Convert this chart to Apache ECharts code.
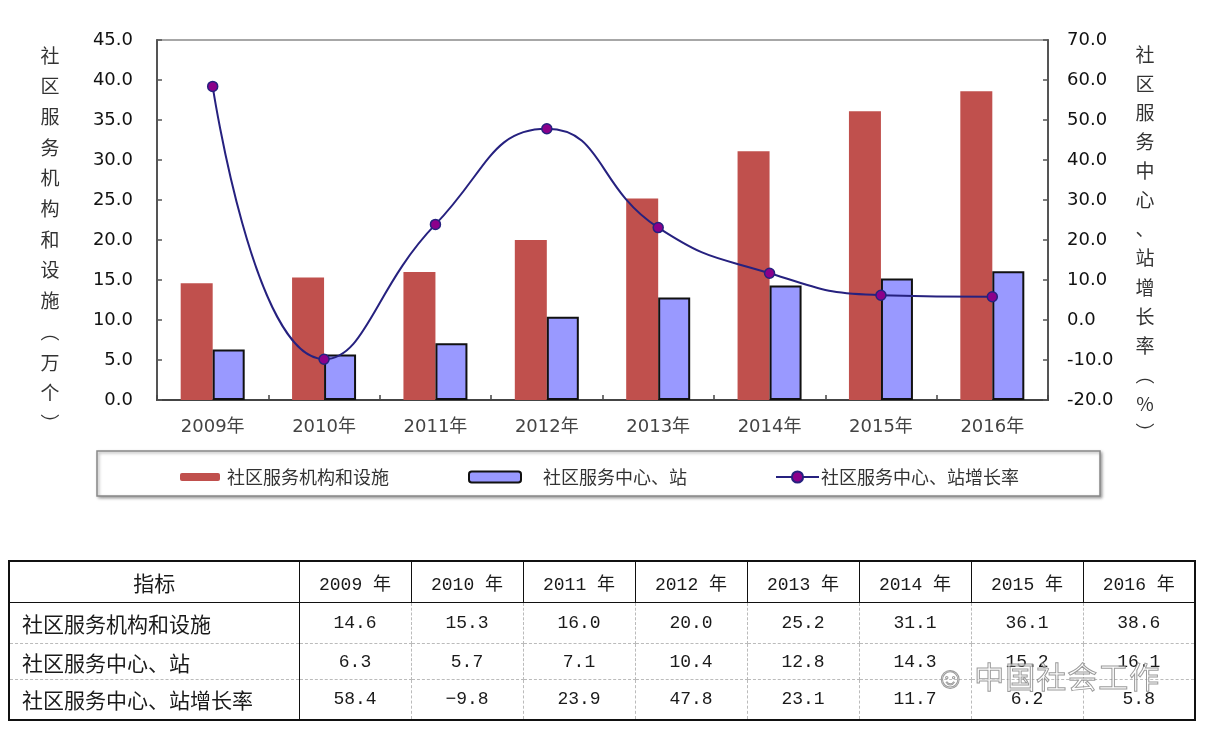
<!DOCTYPE html>
<html>
<head>
<meta charset="utf-8">
<script src="https://cdn.jsdelivr.net/npm/echarts@6/dist/echarts.min.js"></script>
<style>
html,body{margin:0;padding:0;background:#fff;}
#wrap{position:relative;width:1208px;height:729px;overflow:hidden;}
#chart{position:absolute;left:0;top:0;width:1208px;height:729px;}
#tbl{position:absolute;left:8px;top:560px;border-collapse:collapse;table-layout:fixed;
  font-family:'Liberation Mono','Noto Sans CJK SC',monospace;color:#1a1a1a;}
#tbl td,#tbl th{padding:0;text-align:center;font-weight:normal;font-size:18px;}
#tbl th{border:1.5px solid #111;height:40px;}
#tbl th.name{font-family:'Noto Sans CJK SC',sans-serif;font-size:21px;}
#tbl td{border-left:1px dashed #bbb;border-right:1px dashed #bbb;border-top:1px dashed #bbb;border-bottom:1px dashed #bbb;}
#tbl td.lab{text-align:left;padding-left:12px;font-family:'Noto Sans CJK SC',sans-serif;font-size:21px;border-right:1.5px solid #111;border-left:2px solid #111;}
#tbl tr.last td{border-bottom:2px solid #111;}
#tbl td.endc{border-right:2px solid #111;}
#tbl{border:2px solid #111;}
#wm{position:absolute;left:935px;top:653px;font-family:'Noto Sans CJK SC',sans-serif;font-size:30px;color:rgba(255,255,255,0.6);
  -webkit-text-stroke:1px rgba(120,120,120,0.75);letter-spacing:1px;}
</style>
</head>
<body>
<div id="wrap">
<div id="chart"></div>
<table id="tbl"></table>
<div id="wm">☺ 中国社会工作</div>
</div>
<script>
var years = ['2009年','2010年','2011年','2012年','2013年','2014年','2015年','2016年'];
var facilities = [14.6, 15.3, 16.0, 20.0, 25.2, 31.1, 36.1, 38.6];
var centers = [6.3, 5.7, 7.1, 10.4, 12.8, 14.3, 15.2, 16.1];
var growth = [58.4, -9.8, 23.9, 47.8, 23.1, 11.7, 6.2, 5.8];
var seriesNames = ['社区服务机构和设施', '社区服务中心、站', '社区服务中心、站增长率'];
var tableHeaderYears = ['2009 年','2010 年','2011 年','2012 年','2013 年','2014 年','2015 年','2016 年'];
var leftAxisName = '社区服务机构和设施︵万个︶';
var rightAxisName = '社区服务中心、站增长率︵%︶';

var numFont = "'DejaVu Sans','Noto Sans CJK SC',sans-serif";
var cjkFont = "'Noto Sans CJK SC',sans-serif";

var chart = echarts.init(document.getElementById('chart'));
chart.setOption({
  backgroundColor: '#fff',
  animation: false,
  grid: {left: 157, right: 160, top: 40, bottom: 329, show: true, borderColor: '#8a8a8a', borderWidth: 1.5, backgroundColor: 'transparent'},
  legend: [
    {data: [seriesNames[0]], left: 175, top: 463, itemWidth: 40, itemHeight: 8, itemGap: 0,
     textStyle: {fontFamily: cjkFont, fontSize: 18, color: '#333', padding: [0,0,0,2]}},
    {data: [seriesNames[1]], left: 463, top: 463, itemWidth: 52, itemHeight: 11, itemGap: 0,
     textStyle: {fontFamily: cjkFont, fontSize: 18, color: '#333', padding: [0,0,0,17]}},
    {data: [seriesNames[2]], left: 770, top: 463, itemWidth: 43, itemHeight: 14, itemGap: 0,
     textStyle: {fontFamily: cjkFont, fontSize: 18, color: '#333', padding: [0,0,0,-3]}}
  ],
  xAxis: {
    type: 'category', data: years,
    axisLine: {lineStyle: {color: '#444', width: 2}},
    axisTick: {show: true, inside: true, length: 5, lineStyle: {color: '#444', width: 1.5}},
    axisLabel: {fontFamily: numFont, fontSize: 18, color: '#444', margin: 18}
  },
  yAxis: [
    {type: 'value', min: 0, max: 45, interval: 5,
     axisLine: {show: true, lineStyle: {color: '#555', width: 2}},
     axisTick: {show: true, inside: true, length: 5, lineStyle: {color: '#555', width: 1.5}},
     splitLine: {show: false},
     axisLabel: {fontFamily: numFont, fontSize: 18, color: '#111', margin: 24, formatter: function(v){return v.toFixed(1);}}},
    {type: 'value', min: -20, max: 70, interval: 10, position: 'right',
     axisLine: {show: true, lineStyle: {color: '#555', width: 2}},
     axisTick: {show: true, inside: true, length: 5, lineStyle: {color: '#555', width: 1.5}},
     splitLine: {show: false},
     axisLabel: {fontFamily: numFont, fontSize: 18, color: '#111', margin: 19, formatter: function(v){return v.toFixed(1);}}}
  ],
  series: [
    {name: seriesNames[0], type: 'bar', data: facilities, barWidth: 32, barGap: '0%',
     itemStyle: {color: '#C0504D'}},
    {name: seriesNames[1], type: 'bar', data: centers, barWidth: 32,
     itemStyle: {color: '#9999FF', borderColor: '#111', borderWidth: 2}},
    {name: seriesNames[2], type: 'line', yAxisIndex: 1, data: growth, smooth: 0.5, z: 5,
     symbol: 'circle', symbolSize: 10,
     lineStyle: {color: '#26217F', width: 2},
     itemStyle: {color: '#8B008B', borderColor: '#26217F', borderWidth: 1.5}}
  ],
  graphic: [
    {type: 'rect', z: -1, shape: {x: 97, y: 451, width: 1003, height: 45},
     style: {fill: '#fff', stroke: '#888', lineWidth: 1.5, shadowBlur: 3, shadowColor: 'rgba(0,0,0,0.35)', shadowOffsetX: 1.5, shadowOffsetY: 1.5}},
    {type: 'text', style: {text: leftAxisName.split('').join('\n'), x: 50, y: 40, align: 'center', verticalAlign: 'top',
      font: '19px ' + cjkFont, lineHeight: 30.7, fill: '#333'}},
    {type: 'text', style: {text: rightAxisName.split('').join('\n'), x: 1145, y: 40, align: 'center', verticalAlign: 'top',
      font: '19px ' + cjkFont, lineHeight: 29.1, fill: '#333'}}
  ]
});

// data table built from the same arrays
var tbl = document.getElementById('tbl');
var html = '<colgroup><col style="width:290px">';
for (var i = 0; i < years.length; i++) html += '<col style="width:112px">';
html += '</colgroup><tr><th class="name">指标</th>';
tableHeaderYears.forEach(function(y){ html += '<th>' + y + '</th>'; });
html += '</tr>';
var rows = [[seriesNames[0], facilities, 41], [seriesNames[1], centers, 36], [seriesNames[2], growth, 40]];
rows.forEach(function(r, ri){
  html += '<tr' + (ri === rows.length - 1 ? ' class="last"' : '') + ' style="height:' + r[2] + 'px"><td class="lab">' + r[0] + '</td>';
  r[1].forEach(function(v, ci){ html += '<td' + (ci === r[1].length - 1 ? ' class="endc"' : '') + '>' + v.toFixed(1).replace('-', '−') + '</td>'; });
  html += '</tr>';
});
tbl.innerHTML = html;
</script>
</body>
</html>
